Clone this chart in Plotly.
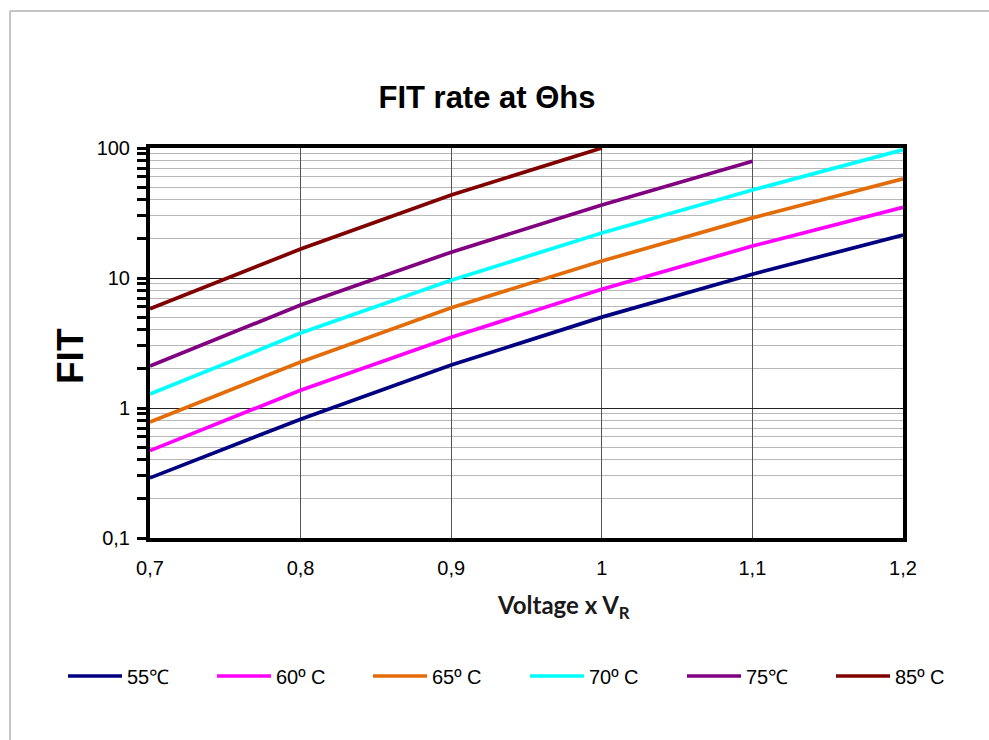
import plotly.graph_objects as go

voltage = [0.7, 0.8, 0.9, 1.0, 1.1, 1.2]

series_names = ["55\u2103", "60\u00ba C", "65\u00ba C", "70\u00ba C", "75\u2103", "85\u00ba C"]
colors = ["#000080", "#FF00FF", "#E36C09", "#00FFFF", "#800080", "#800000"]

fit_55 = [0.29, 0.82, 2.14, 5.0, 10.7, 21.4]
fit_60 = [0.47, 1.37, 3.5, 8.2, 17.6, 35]
fit_65 = [0.78, 2.26, 5.9, 13.5, 29, 58]
fit_70 = [1.28, 3.77, 9.6, 22.2, 47.5, 97]
fit_75 = [2.1, 6.2, 15.8, 36.5, 79]
fit_85 = [5.8, 16.7, 43.5, 100]

all_fit = [fit_55, fit_60, fit_65, fit_70, fit_75, fit_85]

FONT = "Arial"

# plot area in pixels (for placing decorations)
L, R, T, B = 150, 903, 148, 538
PW, PH = R - L, B - T

# legend sample start positions (px) per entry
legend_starts = [68, 217, 373, 530, 687, 836]

fig = go.Figure()
layout_legends = {}
for i, (name, col, ys) in enumerate(zip(series_names, colors, all_fit)):
    key = "legend" if i == 0 else f"legend{i + 1}"
    fig.add_trace(go.Scatter(
        x=voltage[:len(ys)], y=ys, mode="lines", name=name,
        line=dict(color=col, width=3.7), legend=key,
    ))
    layout_legends[key] = dict(
        orientation="h", xref="paper", x=(legend_starts[i] - 5 - L) / PW, xanchor="left",
        yref="paper", y=(B - 676) / PH, yanchor="middle",
        font=dict(family=FONT, size=20), itemwidth=54, bgcolor="rgba(0,0,0,0)",
    )

fig.update_layout(
    width=989, height=740,
    margin=dict(l=L, r=989 - R, t=T, b=740 - B),
    paper_bgcolor="white", plot_bgcolor="white",
    separators=", ",
    font=dict(family=FONT, size=20, color="#000000"),
    title=dict(text="<b>FIT rate at \u0398hs</b>", x=487 / 989, xanchor="center",
               y=1 - 97 / 740, yanchor="middle",
               font=dict(family=FONT, size=31, color="#000000")),
    showlegend=True,
    **layout_legends,
)

fig.update_xaxes(
    range=[0.7, 1.2], dtick=0.1, tick0=0.7,
    showline=True, linecolor="#000000", linewidth=4, mirror=True,
    showgrid=True, gridcolor="#555555", gridwidth=1,
    ticks="", tickfont=dict(family=FONT, size=20), ticklabelstandoff=9, zeroline=False,
)
fig.update_yaxes(
    type="log", range=[-1, 2], dtick=1,
    showline=True, linecolor="#000000", linewidth=4, mirror=True,
    showgrid=True, gridcolor="#222222", gridwidth=1,
    ticks="outside", ticklen=9, tickwidth=3, tickcolor="#000000",
    tickfont=dict(family=FONT, size=20), ticklabelstandoff=3,
    minor=dict(dtick="D1", ticks="outside", ticklen=9, tickwidth=3, tickcolor="#000000",
               showgrid=True, gridcolor="#b8b8b8", gridwidth=1),
    zeroline=False,
)

# Y-axis title as annotation
fig.add_annotation(
    text="<b>FIT</b>", xref="paper", yref="paper",
    x=(70 - L) / PW, y=(B - 356) / PH, xanchor="center", yanchor="middle",
    textangle=-90, showarrow=False, font=dict(family=FONT, size=37, color="#000000"),
)

# X-axis title as annotation
fig.add_annotation(
    text="<b>Voltage x V<sub>R</sub></b>", xref="paper", yref="paper",
    x=(563 - L) / PW, y=(B - 606) / PH, xanchor="center", yanchor="middle",
    showarrow=False, font=dict(family="Lato, Open Sans, sans-serif", size=24, color="#1a1a1a"),
)

# outer frame lines (gray)
fig.add_shape(type="line", xref="paper", yref="paper",
              x0=(10 - L) / PW, x1=(989 - L) / PW,
              y0=(B - 11) / PH, y1=(B - 11) / PH,
              line=dict(color="#b0b0b0", width=1.5))
fig.add_shape(type="line", xref="paper", yref="paper",
              x0=(10 - L) / PW, x1=(10 - L) / PW,
              y0=(B - 11) / PH, y1=(B - 740) / PH,
              line=dict(color="#b0b0b0", width=1.5))

fig.write_html("out.html", config={"displayModeBar": False},
               post_script="document.body.style.margin='0';document.body.style.padding='0';")
